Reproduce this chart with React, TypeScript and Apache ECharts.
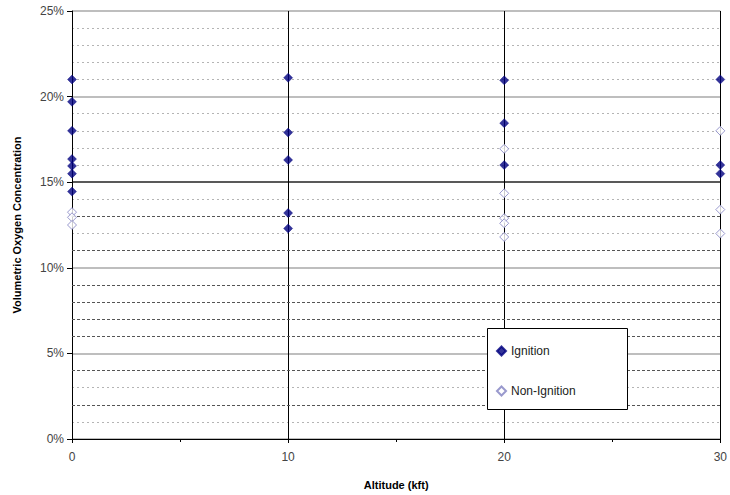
import React, { useEffect, useRef } from "react";
import * as echarts from "echarts";

const ignitionAlt = [0, 0, 0, 0, 0, 0, 0, 10, 10, 10, 10, 10, 20, 20, 20, 30, 30, 30];
const ignitionO2 = [21.0, 19.7, 18.0, 16.35, 15.95, 15.5, 14.45, 21.1, 17.9, 16.3, 13.2, 12.3, 20.95, 18.45, 16.0, 21.0, 16.0, 15.5];
const nonIgnitionAlt = [0, 0, 0, 20, 20, 20, 20, 20, 30, 30, 30];
const nonIgnitionO2 = [13.25, 12.95, 12.5, 16.95, 14.35, 12.9, 12.6, 11.8, 18.0, 13.4, 12.0];
const darkDashedLevels = [13, 11, 9, 8, 7, 6, 4, 2];
const xTicks = [0, 10, 20, 30];
const yTicks = [0, 5, 10, 15, 20, 25];

export default function App() {
  const ref = useRef<HTMLDivElement>(null);
  useEffect(() => {
    if (!ref.current) return;
    const chart = echarts.init(ref.current, null, { renderer: "svg" });
    const font = "Liberation Sans, Arial, sans-serif";
    const ign = ignitionAlt.map((a, i) => [a, ignitionO2[i]]);
    const non = nonIgnitionAlt.map((a, i) => [a, nonIgnitionO2[i]]);
    chart.setOption({
      animation: false,
      backgroundColor: "#ffffff",
      grid: { left: 72, right: 7, top: 11, bottom: 54, containLabel: false },
      xAxis: {
        type: "value",
        min: xTicks[0],
        max: xTicks[xTicks.length - 1],
        interval: 10,
        name: "Altitude (kft)",
        nameLocation: "middle",
        nameGap: 40,
        nameTextStyle: { fontFamily: font, fontSize: 11, fontWeight: "bold", color: "#000" },
        axisLine: { show: true, onZero: false, lineStyle: { color: "#000", width: 1 } },
        axisTick: { show: true, length: 4, lineStyle: { color: "#000" } },
        minorTick: { show: true, splitNumber: 2, length: 3, lineStyle: { color: "#000" } },
        axisLabel: { fontFamily: font, fontSize: 12, color: "#444", margin: 12 },
        splitLine: { show: true, lineStyle: { color: "#000", width: 1 } },
      },
      yAxis: {
        type: "value",
        min: yTicks[0],
        max: yTicks[yTicks.length - 1],
        interval: 5,
        name: "Volumetric Oxygen Concentration",
        nameLocation: "middle",
        nameGap: 50,
        nameTextStyle: { fontFamily: font, fontSize: 11, fontWeight: "bold", color: "#000" },
        axisLine: { show: true, lineStyle: { color: "#000", width: 1 } },
        axisTick: { show: true, length: 5, lineStyle: { color: "#000" } },
        axisLabel: { fontFamily: font, fontSize: 12, color: "#444", margin: 8, formatter: "{value}%" },
        splitLine: {
          show: true,
          lineStyle: { color: ["#a8a8a8", "#a8a8a8", "#a8a8a8", "#222", "#a8a8a8", "#a8a8a8"], width: 1.5 },
        },
        minorTick: { show: false, splitNumber: 5 },
        minorSplitLine: { show: true, lineStyle: { color: "#b4b4b4", type: [2, 3], width: 1 } },
      },
      legend: {
        orient: "vertical",
        left: 491,
        top: 340,
        z: 100,
        itemGap: 28,
        itemWidth: 9,
        itemHeight: 9,
        textStyle: { fontFamily: font, fontSize: 12, color: "#222" },
        data: ["Ignition", "Non-Ignition"],
      },
      graphic: [
        {
          type: "rect",
          left: 487,
          top: 328,
          z: 50,
          shape: { width: 140, height: 81 },
          style: { fill: "#fff", stroke: "#000", lineWidth: 1 },
        },
      ],
      series: [
        {
          name: "Guides",
          type: "scatter",
          data: [],
          silent: true,
          z: 1,
          markLine: {
            silent: true,
            symbol: "none",
            label: { show: false },
            lineStyle: { color: "#555", type: [3, 2], width: 1 },
            data: darkDashedLevels.map((v) => ({ yAxis: v })),
          },
        },
        {
          name: "Ignition",
          type: "scatter",
          symbol: "diamond",
          symbolSize: 9,
          z: 5,
          itemStyle: { color: "#000080", borderColor: "#000080", borderWidth: 0.5 },
          data: ign,
        },
        {
          name: "Non-Ignition",
          type: "scatter",
          symbol: "diamond",
          symbolSize: 9,
          z: 5,
          itemStyle: { color: "#ffffff", borderColor: "#8080c0", borderWidth: 1 },
          data: non,
        },
      ],
    });
    return () => chart.dispose();
  }, []);
  return <div ref={ref} style={{ width: 730, height: 495, position: "absolute", left: 0, top: 0 }} />;
}
